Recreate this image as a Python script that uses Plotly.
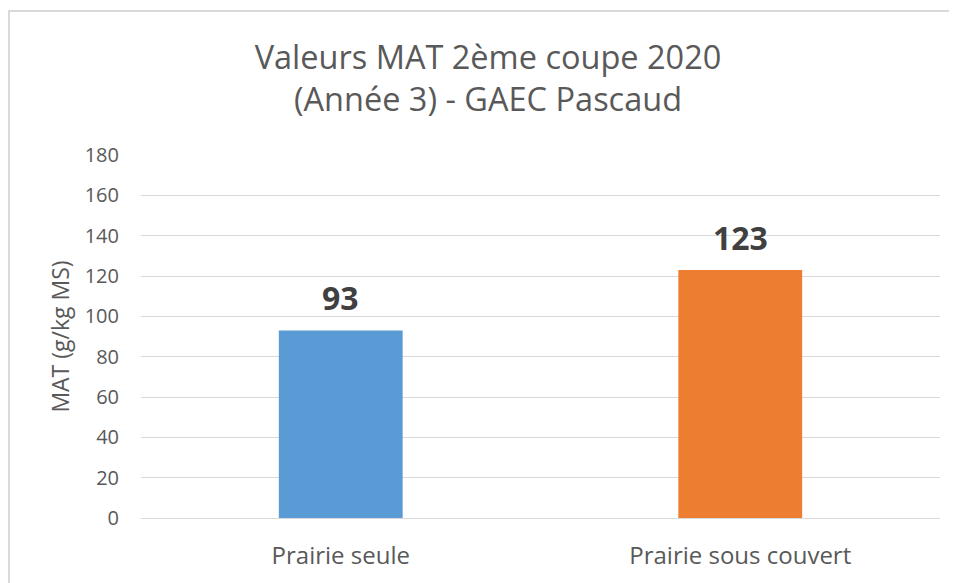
import plotly.graph_objects as go

categories = ["Prairie seule", "Prairie sous couvert"]
values = [93, 123]
colors = ["#5B9BD5", "#ED7D31"]
y_ticks = [0, 20, 40, 60, 80, 100, 120, 140, 160, 180]

FONT = "Open Sans"
GREY = "#595959"

# page body has an 8px default margin: figure is sized/offset to compensate
W, H = 949, 575
L, R, T, B = 133, 17, 147, 65
PW, PH = W - L - R, H - T - B

fig = go.Figure()
fig.add_trace(go.Bar(
    x=categories, y=values,
    marker=dict(color=colors, line=dict(width=0)),
    width=0.31,
    hoverinfo="x+y",
))

for c, v in zip(categories, values):
    fig.add_annotation(
        x=c, y=v, xref="x", yref="y",
        text="<b>%d</b>" % v, showarrow=False,
        yanchor="bottom", yshift=9,
        font=dict(family=FONT, size=32, color="#404040"),
    )

fig.update_layout(
    width=W, height=H,
    margin=dict(l=L, r=R, t=T, b=B),
    paper_bgcolor="white", plot_bgcolor="white",
    showlegend=False,
    title=dict(
        text="Valeurs MAT 2ème coupe 2020<br>(Année 3) - GAEC Pascaud",
        x=480 / W, xanchor="center", y=1 - 61 / H, yanchor="middle",
        xref="container", yref="container",
        font=dict(family=FONT, size=32.5, color=GREY),
    ),
    font=dict(family=FONT, color=GREY),
    xaxis=dict(
        tickfont=dict(family=FONT, size=24, color=GREY),
        showgrid=False, showline=False, ticks="", ticklabelstandoff=21,
    ),
    yaxis=dict(
        range=[0, 180], tickvals=y_ticks,
        tickfont=dict(family=FONT, size=20, color=GREY),
        showgrid=True, gridcolor="#D9D9D9", gridwidth=1,
        zeroline=True, zerolinecolor="#D9D9D9", zerolinewidth=1,
        showline=False, ticks="", ticklabelstandoff=21,
        title=dict(text="MAT (g/kg MS)", font=dict(family=FONT, size=23, color=GREY), standoff=8),
    ),
    shapes=[dict(
        type="rect", xref="paper", yref="paper",
        x0=(1 - L) / PW, x1=1.2, y0=-0.5, y1=(PH + T - 3) / PH,
        line=dict(color="#D9D9D9", width=2), fillcolor="rgba(0,0,0,0)", layer="below",
    )],
)

fig.write_html("out.html")
